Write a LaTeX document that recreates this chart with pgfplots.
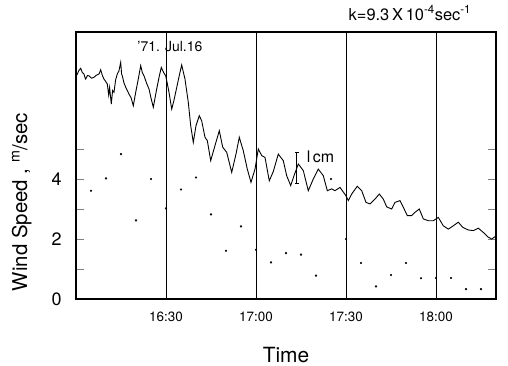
\documentclass[border=0pt]{standalone}
\usepackage{fontspec}
\setmainfont{TeX Gyre Heros}
\usepackage{pgfplots}
\pgfplotsset{compat=1.18}
\begin{document}
\begin{tikzpicture}
\path[use as bounding box] (-76bp,-67bp) rectangle (432bp,299bp);
\begin{axis}[
  scale only axis, width=420bp, height=267bp,
  at={(0,0)}, anchor=south west,
  xmin=0, xmax=140, ymin=0, ymax=8.9,
  axis line style={line width=1.1pt},
  xtick={30,60,90,120},
  xticklabels={16:30,17:00,17:30,18:00},
  xtick style={draw=none},
  xmajorgrids, grid style={black, line width=0.5pt},
  ytick={0,1,2,3,4,5},
  yticklabels={0,,2,,4,},
  ytick pos=both, tick align=inside,
  major tick length=8bp,
  ytick style={line width=1pt},
  /pgf/number format/assume math mode=true,
  yticklabel style={font=\fontsize{18}{18}\selectfont, xshift=-11bp},
  xticklabel style={font=\fontsize{13.5}{13.5}\selectfont, yshift=-9bp},
  clip=false,
]
\addplot[black, line width=0.9pt] coordinates {
(0.2,7.45)(0.43,7.5)(1.0,7.62)(1.57,7.69)(2.1,7.55)(2.67,7.5)(3.0,7.38)(3.23,7.33)(3.8,7.45)(4.33,7.44)(5.2,7.36)(6.0,7.39)(6.8,7.46)(7.67,7.5)(8.23,7.64)(8.8,7.45)(9.33,7.33)(9.9,7.25)(10.43,7.17)(10.9,6.8)(11.2,7.05)(11.77,6.5)(12.2,6.95)(12.67,6.89)(13.2,7.3)(13.77,7.5)(14.3,7.6)(14.9,7.89)(15.2,7.5)(15.43,7.44)(16.0,7.2)(16.57,7.06)(17.1,6.95)(17.67,6.83)(18.4,6.7)(19.1,6.44)(19.9,6.89)(20.7,7.3)(21.57,7.78)(22.1,7.55)(22.67,7.44)(23.5,7.2)(24.33,7.0)(25.0,6.7)(25.77,6.39)(26.9,7.0)(27.7,7.4)(28.43,7.72)(29.2,7.55)(29.9,7.44)(30.5,7.15)(31.0,6.89)(31.9,6.33)(32.6,6.6)(33.23,6.89)(34.0,7.25)(34.67,7.56)(35.23,7.8)(36.33,7.33)(37.43,6.56)(38.23,5.78)(39.1,5.22)(40.0,5.78)(41.1,6.11)(41.9,5.94)(43.0,5.39)(43.77,5.28)(44.9,4.61)(46.0,5.0)(47.77,5.61)(48.9,5.06)(50.23,4.89)(51.9,4.22)(53.33,4.83)(54.43,5.39)(55.77,4.94)(57.1,4.33)(58.33,3.89)(59.67,4.33)(60.77,5.0)(61.9,4.78)(63.0,4.72)(64.43,3.94)(65.77,4.25)(67.43,4.83)(69.1,4.61)(70.23,4.11)(71.57,3.78)(72.67,4.11)(74.1,4.5)(75.77,4.28)(77.43,3.61)(79.1,4.0)(80.77,4.33)(82.43,4.11)(83.77,3.61)(85.23,3.67)(86.33,3.61)(88.0,3.72)(90.0,3.44)(90.77,3.28)(91.9,3.5)(93.77,3.76)(95.23,3.61)(96.67,3.22)(98.0,3.17)(99.67,3.33)(101.1,3.5)(102.43,3.33)(103.57,3.07)(105.23,3.0)(106.33,3.22)(108.0,3.28)(109.1,3.06)(110.43,2.78)(111.9,2.78)(113.0,2.89)(114.43,3.0)(115.77,2.67)(117.43,2.61)(119.1,2.61)(120.77,2.72)(122.43,2.44)(124.1,2.33)(125.77,2.44)(127.43,2.56)(128.9,2.39)(130.77,2.3)(132.43,2.28)(134.1,2.36)(135.77,2.22)(137.43,2.06)(138.57,2.0)(140,2.1)
};
\addplot[only marks, mark=*, mark size=0.9pt, black] coordinates {
(5,3.61)(10,4.02)(15,4.83)(20,2.62)(25,4.0)(30,3.02)(35,3.65)(40,4.05)(45,2.82)(50,1.61)(55,2.42)(60,1.64)(65,1.22)(70,1.53)(75,1.48)(80,0.78)(85,4.0)(90,2.0)(95,1.2)(100,0.42)(105,0.8)(110,1.2)(115,0.69)(120,0.7)(125,0.7)(130,0.33)(135,0.33)
};
\addplot[black, line width=0.8pt, mark=none, error bars/.cd, y dir=both, y explicit, error mark=-, error mark options={mark size=2pt, line width=0.8pt, rotate=90}, error bar style={line width=0.8pt}] coordinates {(73.6,4.37) +- (0,0.52)};
\node[font=\fontsize{16}{16}\selectfont] at (axis cs:81.5,4.73) {l\,cm};
\node[font=\fontsize{14}{14}\selectfont] at (axis cs:31.3,8.43) {’71. Jul.16};
\node[font=\fontsize{16.5}{16.5}\selectfont] at (axis description cs:0.795,1.071) {k=9.3\,X\,10\textsuperscript{-4}sec\textsuperscript{-1}};
\node[font=\fontsize{21}{21}\selectfont] at (axis description cs:0.5,-0.21) {Time};
\node[font=\fontsize{20.5}{20.5}\selectfont, rotate=90] at (axis description cs:-0.129,0.363) {Wind Speed , \textsuperscript{m}/sec};
\end{axis}
\end{tikzpicture}
\end{document}
